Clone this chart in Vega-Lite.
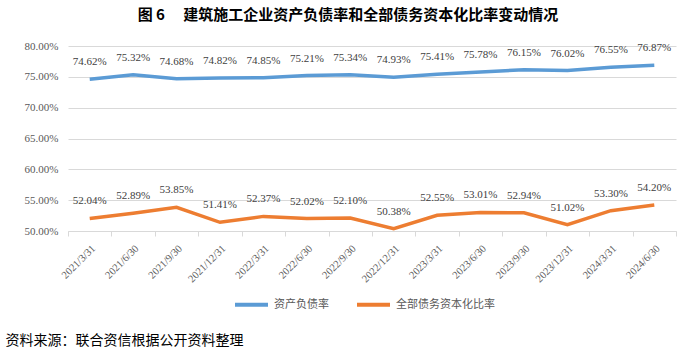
{
  "$schema": "https://vega.github.io/schema/vega-lite/v6.json",
  "width": 608,
  "height": 185,
  "autosize": {"type": "none"},
  "padding": {"left": 68, "top": 46, "right": 23, "bottom": 120},
  "background": "white",
  "title": {
    "text": "图 6 　建筑施工企业资产负债率和全部债务资本化比率变动情况",
    "font": "Noto Sans CJK SC",
    "fontSize": 15,
    "fontWeight": "bold",
    "color": "#000000",
    "anchor": "middle",
    "dx": -24,
    "offset": 17
  },
  "data": {
    "values": [
      {"date": "2021/3/31", "series": "资产负债率", "value": 0.7462},
      {"date": "2021/6/30", "series": "资产负债率", "value": 0.7532},
      {"date": "2021/9/30", "series": "资产负债率", "value": 0.7468},
      {"date": "2021/12/31", "series": "资产负债率", "value": 0.7482},
      {"date": "2022/3/31", "series": "资产负债率", "value": 0.7485},
      {"date": "2022/6/30", "series": "资产负债率", "value": 0.7521},
      {"date": "2022/9/30", "series": "资产负债率", "value": 0.7534},
      {"date": "2022/12/31", "series": "资产负债率", "value": 0.7493},
      {"date": "2023/3/31", "series": "资产负债率", "value": 0.7541},
      {"date": "2023/6/30", "series": "资产负债率", "value": 0.7578},
      {"date": "2023/9/30", "series": "资产负债率", "value": 0.7615},
      {"date": "2023/12/31", "series": "资产负债率", "value": 0.7602},
      {"date": "2024/3/31", "series": "资产负债率", "value": 0.7655},
      {"date": "2024/6/30", "series": "资产负债率", "value": 0.7687},
      {"date": "2021/3/31", "series": "全部债务资本化比率", "value": 0.5204},
      {"date": "2021/6/30", "series": "全部债务资本化比率", "value": 0.5289},
      {"date": "2021/9/30", "series": "全部债务资本化比率", "value": 0.5385},
      {"date": "2021/12/31", "series": "全部债务资本化比率", "value": 0.5141},
      {"date": "2022/3/31", "series": "全部债务资本化比率", "value": 0.5237},
      {"date": "2022/6/30", "series": "全部债务资本化比率", "value": 0.5202},
      {"date": "2022/9/30", "series": "全部债务资本化比率", "value": 0.5210},
      {"date": "2022/12/31", "series": "全部债务资本化比率", "value": 0.5038},
      {"date": "2023/3/31", "series": "全部债务资本化比率", "value": 0.5255},
      {"date": "2023/6/30", "series": "全部债务资本化比率", "value": 0.5301},
      {"date": "2023/9/30", "series": "全部债务资本化比率", "value": 0.5294},
      {"date": "2023/12/31", "series": "全部债务资本化比率", "value": 0.5102},
      {"date": "2024/3/31", "series": "全部债务资本化比率", "value": 0.5330},
      {"date": "2024/6/30", "series": "全部债务资本化比率", "value": 0.5420}
    ]
  },
  "encoding": {
    "x": {
      "field": "date",
      "type": "ordinal",
      "sort": null,
      "scale": {"type": "band", "paddingInner": 0, "paddingOuter": 0},
      "axis": {
        "title": "资料来源：联合资信根据公开资料整理",
        "titleFont": "Noto Sans CJK SC",
        "titleFontSize": 14,
        "titleFontWeight": "normal",
        "titleColor": "#000000",
        "titleX": -63,
        "titleY": 109,
        "titleAlign": "left",
        "titleBaseline": "middle",
        "titleAngle": 0,
        "labelAngle": -45,
        "labelFont": "Liberation Serif",
        "labelFontSize": 10.5,
        "labelColor": "#595959",
        "labelPadding": 7,
        "domainColor": "#d9d9d9",
        "tickColor": "#d9d9d9",
        "tickSize": 5,
        "tickBand": "extent",
        "grid": false
      }
    },
    "y": {
      "field": "value",
      "type": "quantitative",
      "scale": {"domain": [0.5, 0.8], "nice": false, "zero": false},
      "axis": {
        "title": null,
        "values": [0.5, 0.55, 0.6, 0.65, 0.7, 0.75, 0.8],
        "format": ".2%",
        "domain": false,
        "ticks": false,
        "grid": true,
        "gridColor": "#d9d9d9",
        "labelFont": "Liberation Serif",
        "labelFontSize": 11,
        "labelColor": "#595959",
        "labelPadding": 10
      }
    },
    "color": {
      "field": "series",
      "type": "nominal",
      "scale": {"domain": ["资产负债率", "全部债务资本化比率"], "range": ["#5B9BD5", "#ED7D31"]},
      "legend": {
        "title": null,
        "orient": "none",
        "direction": "horizontal",
        "legendX": 165,
        "legendY": 240,
        "symbolType": "stroke",
        "symbolStrokeWidth": 4,
        "symbolSize": 1089,
        "labelFont": "Noto Sans CJK SC",
        "labelFontSize": 11,
        "labelColor": "#595959",
        "labelOffset": 4,
        "columnPadding": 20
      }
    }
  },
  "layer": [
    {"mark": {"type": "line", "strokeWidth": 3.5}},
    {
      "mark": {"type": "text", "dy": -17, "font": "Liberation Serif", "fontSize": 11, "color": "#404040"},
      "encoding": {
        "text": {"field": "value", "type": "quantitative", "format": ".2%"},
        "color": {"value": "#404040"}
      }
    }
  ],
  "config": {"view": {"stroke": null}}
}
